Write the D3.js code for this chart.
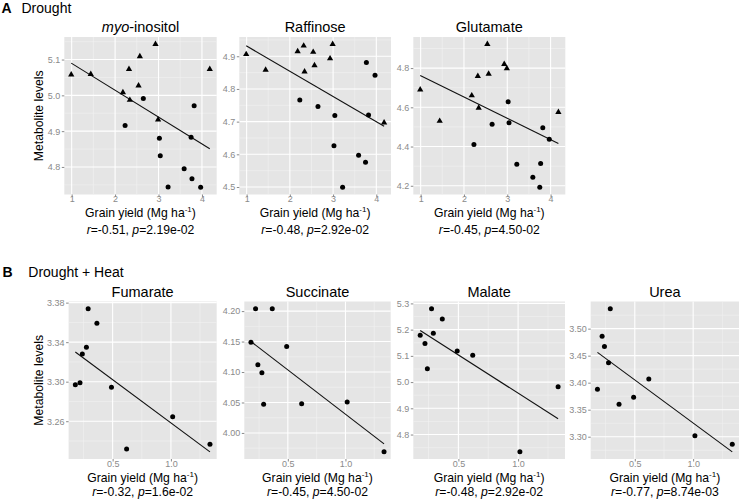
<!DOCTYPE html>
<html><head><meta charset="utf-8">
<script src="https://cdn.jsdelivr.net/npm/d3@7"></script>
<style>
body{margin:0;background:#fff}
svg{display:block}
text{font-family:"Liberation Sans",Arial,Helvetica,sans-serif}
</style>
</head><body>
<svg id="c" width="740" height="499"></svg>
<script>
// ---------- data ----------
// A: Drought (triangles and circles share grain yields across the three metabolites)
const droughtYieldTriangle = [0.99, 1.44, 2.18, 2.32, 2.34, 2.54, 2.57, 2.93, 2.99, 4.18];
const droughtYieldCircle   = [2.23, 2.65, 3.02, 3.04, 3.22, 3.59, 3.75, 3.77, 3.82, 3.97];

const myoTriangle = [5.058, 5.059, 5.008, 5.073, 4.987, 5.027, 5.109, 5.143, 4.932, 5.073];
const myoCircle   = [4.916, 4.991, 4.880, 4.831, 4.744, 4.795, 4.883, 4.767, 4.971, 4.743];
const myoFit      = [[0.99, 5.090], [4.18, 4.851]];

const raffTriangle = [4.906, 4.858, 4.915, 4.932, 4.853, 4.913, 4.872, 4.893, 4.937, 4.697];
const raffCircle   = [4.766, 4.746, 4.626, 4.719, 4.499, 4.597, 4.576, 4.881, 4.720, 4.842];
const raffFit      = [[0.99, 4.932], [4.18, 4.686]];

const gluTriangle = [4.690, 4.530, 4.660, 4.759, 4.597, 4.922, 4.770, 4.820, 4.798, 4.575];
const gluCircle   = [4.411, 4.514, 4.628, 4.521, 4.310, 4.244, 4.192, 4.313, 4.496, 4.437];
const gluFit      = [[0.99, 4.762], [4.18, 4.416]];

// B: Drought + Heat
const heatYield = [0.18, 0.22, 0.24, 0.275, 0.29, 0.365, 0.49, 0.62, 1.015, 1.335];
const fumarate  = [3.2968, 3.2988, 3.3281, 3.3348, 3.3739, 3.3591, 3.2944, 3.2320, 3.2644, 3.2368];
const fumFit    = [[0.18, 3.330], [1.335, 3.229]];
const succinate = [4.149, 4.204, 4.112, 4.099, 4.047, 4.204, 4.142, 4.048, 4.051, 3.969];
const succFit   = [[0.18, 4.150], [1.335, 3.982]];
const malate    = [5.179, 5.147, 5.051, 5.280, 5.186, 5.241, 5.119, 5.102, 4.734, 4.982];
const malFit    = [[0.18, 5.197], [1.335, 4.860]];
const urea      = [3.388, 3.486, 3.467, 3.437, 3.537, 3.360, 3.373, 3.407, 3.302, 3.286];
const ureaFit   = [[0.18, 3.456], [1.335, 3.272]];

// tick labels
const droughtXTicks = [1, 2, 3, 4];
const heatXTicks = [0.5, 1.0];
const myoYTicks  = [4.8, 4.9, 5.0, 5.1];
const raffYTicks = [4.5, 4.6, 4.7, 4.8, 4.9];
const gluYTicks  = [4.2, 4.4, 4.6, 4.8];
const fumYTicks  = [3.26, 3.30, 3.34, 3.38];
const succYTicks = [4.00, 4.05, 4.10, 4.15, 4.20];
const malYTicks  = [4.8, 4.9, 5.0, 5.1, 5.2, 5.3];
const ureaYTicks = [3.30, 3.35, 3.40, 3.45, 3.50];

// text
const droughtTitles = ["myo-inositol", "Raffinose", "Glutamate"];
const heatTitles = ["Fumarate", "Succinate", "Malate", "Urea"];
const droughtStats = [["-0.51", "2.19e-02"], ["-0.48", "2.92e-02"], ["-0.45", "4.50-02"]];
const heatStats = [["-0.32", "1.6e-02"], ["-0.45", "4.50-02"], ["-0.48", "2.92e-02"], ["-0.77", "8.74e-03"]];

// ---------- layout ----------
const rowA = {top: 37, bottom: 194.5, titleY: 31.5, xTitleY: 216.7, statY: 234.3,
  panels: [[64.3, 152.4], [239.3, 151.7], [413.3, 152]]};
const rowB = {top: 301.5, bottom: 459, titleY: 296.5, xTitleY: 481.5, statY: 495.5,
  panels: [[68.6, 148.1], [244.3, 146.4], [413.3, 151.7], [590.7, 148.3]]};

const svg = d3.select("#c");
const tickCol = "#8a8a8a";

function drawPanel(opt) {
  const {left, width, row, xs, ys, shapes, fit, xTicks, yTicks, xFmt, yFmt, title, stat, yTitle} = opt;
  const top = row.top, height = row.bottom - row.top;
  const allX = xs.concat([fit[0][0], fit[1][0]]);
  const allY = ys.concat([fit[0][1], fit[1][1]]);
  const [x0, x1] = d3.extent(allX), [y0, y1] = d3.extent(allY);
  const px = (x1 - x0) * 0.05, py = (y1 - y0) * 0.05;
  const x = d3.scaleLinear().domain([x0 - px, x1 + px]).range([0, width]);
  const y = d3.scaleLinear().domain([y0 - py, y1 + py]).range([height, 0]);

  const g = svg.append("g").attr("transform", `translate(${left},${top})`);
  g.append("rect").attr("width", width).attr("height", height).attr("fill", "#E5E5E5");

  function minors(ticks, sc) {
    const step = ticks[1] - ticks[0];
    const [a, b] = sc.domain();
    const out = [];
    for (let v = ticks[0] - step / 2; v <= b + 1e-9; v += step) if (v >= a) out.push(v);
    return out;
  }
  g.selectAll(".mx").data(minors(xTicks, x)).join("line")
    .attr("x1", d => x(d)).attr("x2", d => x(d)).attr("y1", 0).attr("y2", height)
    .attr("stroke", "#F2F2F2").attr("stroke-width", 0.6);
  g.selectAll(".my").data(minors(yTicks, y)).join("line")
    .attr("y1", d => y(d)).attr("y2", d => y(d)).attr("x1", 0).attr("x2", width)
    .attr("stroke", "#F2F2F2").attr("stroke-width", 0.6);
  g.selectAll(".gx").data(xTicks).join("line")
    .attr("x1", d => x(d)).attr("x2", d => x(d)).attr("y1", 0).attr("y2", height)
    .attr("stroke", "#fff").attr("stroke-width", 1.1);
  g.selectAll(".gy").data(yTicks).join("line")
    .attr("y1", d => y(d)).attr("y2", d => y(d)).attr("x1", 0).attr("x2", width)
    .attr("stroke", "#fff").attr("stroke-width", 1.1);

  const ax = g.append("g").attr("transform", `translate(0,${height})`)
    .call(d3.axisBottom(x).tickValues(xTicks).tickFormat(d3.format(xFmt)).tickSize(2.5).tickPadding(1));
  const ay = g.append("g")
    .call(d3.axisLeft(y).tickValues(yTicks).tickFormat(d3.format(yFmt)).tickSize(2.5).tickPadding(1.5));
  [ax, ay].forEach(a => {
    a.select(".domain").remove();
    a.selectAll("line").attr("stroke", tickCol);
    a.selectAll("text").attr("fill", tickCol).style("font-size", "9px")
      .style("font-family", '"Liberation Sans",Arial,sans-serif');
  });
  ax.selectAll("text").attr("y", 1.5);

  g.append("line")
    .attr("x1", x(fit[0][0])).attr("y1", y(fit[0][1]))
    .attr("x2", x(fit[1][0])).attr("y2", y(fit[1][1]))
    .attr("stroke", "#111").attr("stroke-width", 1.1);

  const pts = xs.map((v, i) => ({x: v, y: ys[i], s: shapes[i]}));
  g.selectAll(".c").data(pts.filter(d => d.s === "c")).join("circle")
    .attr("cx", d => x(d.x)).attr("cy", d => y(d.y)).attr("r", 2.5).attr("fill", "#000");
  const tri = d3.symbol(d3.symbolTriangle, 17);
  g.selectAll(".t").data(pts.filter(d => d.s === "t")).join("path")
    .attr("d", tri).attr("transform", d => `translate(${x(d.x)},${y(d.y)})`).attr("fill", "#000");

  const cx = left + width / 2;
  const tt = svg.append("text").attr("x", cx).attr("y", row.titleY).attr("text-anchor", "middle")
    .style("font-size", "14.5px").attr("fill", "#000");
  if (title === "myo-inositol") {
    tt.append("tspan").style("font-style", "italic").text("myo");
    tt.append("tspan").text("-inositol");
  } else tt.text(title);

  const xt = svg.append("text").attr("x", cx).attr("y", row.xTitleY).attr("text-anchor", "middle")
    .style("font-size", "12.2px").attr("fill", "#000");
  xt.append("tspan").text("Grain yield (Mg ha");
  xt.append("tspan").attr("dy", -4.5).style("font-size", "8px").text("-1");
  xt.append("tspan").attr("dy", 4.5).text(")");

  const st = svg.append("text").attr("x", cx).attr("y", row.statY).attr("text-anchor", "middle")
    .style("font-size", "12.2px").attr("fill", "#000");
  st.append("tspan").style("font-style", "italic").text("r");
  st.append("tspan").text("=" + stat[0] + ", ");
  st.append("tspan").style("font-style", "italic").text("p");
  st.append("tspan").text("=" + stat[1]);

  if (yTitle) {
    svg.append("text").attr("transform", `translate(42.5,${top + height / 2}) rotate(-90)`)
      .attr("text-anchor", "middle").style("font-size", "12.2px").attr("fill", "#000")
      .text("Metabolite levels");
  }
}

// Row A
const droughtSeries = [[myoTriangle, myoCircle, myoFit, myoYTicks],
                       [raffTriangle, raffCircle, raffFit, raffYTicks],
                       [gluTriangle, gluCircle, gluFit, gluYTicks]];
droughtSeries.forEach((s, i) => {
  const xs = droughtYieldTriangle.concat(droughtYieldCircle);
  const ys = s[0].concat(s[1]);
  const shapes = droughtYieldTriangle.map(() => "t").concat(droughtYieldCircle.map(() => "c"));
  drawPanel({left: rowA.panels[i][0], width: rowA.panels[i][1], row: rowA, xs, ys, shapes,
    fit: s[2], xTicks: droughtXTicks, yTicks: s[3], xFmt: "d", yFmt: ".1f",
    title: droughtTitles[i], stat: droughtStats[i], yTitle: i === 0});
});

// Row B
const heatSeries = [[fumarate, fumFit, fumYTicks, ".2f"], [succinate, succFit, succYTicks, ".2f"],
                    [malate, malFit, malYTicks, ".1f"], [urea, ureaFit, ureaYTicks, ".2f"]];
heatSeries.forEach((s, i) => {
  drawPanel({left: rowB.panels[i][0], width: rowB.panels[i][1], row: rowB, xs: heatYield, ys: s[0],
    shapes: heatYield.map(() => "c"), fit: s[1], xTicks: heatXTicks, yTicks: s[2], xFmt: ".1f", yFmt: s[3],
    title: heatTitles[i], stat: heatStats[i], yTitle: i === 0});
});

// panel letters
svg.append("text").attr("x", 1.5).attr("y", 12.5).style("font-size", "14px").style("font-weight", "bold").text("A");
svg.append("text").attr("x", 21.5).attr("y", 12.5).style("font-size", "14px").text("Drought");
svg.append("text").attr("x", 2.5).attr("y", 276.5).style("font-size", "14px").style("font-weight", "bold").text("B");
svg.append("text").attr("x", 28.3).attr("y", 276.5).style("font-size", "14px").text("Drought + Heat");
</script>
</body></html>
